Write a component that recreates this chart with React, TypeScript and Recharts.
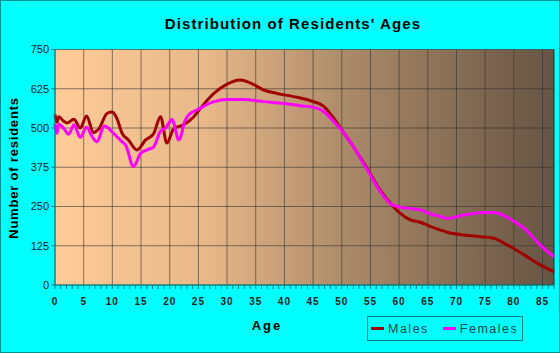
import { LineChart, Line, XAxis, YAxis, CartesianGrid, ReferenceLine } from 'recharts';

// ages are read off the curve, not evenly spaced
const maleAges = [
  0, 0.35, 0.65, 1.5, 2.1, 3.3, 4.4, 5.5, 6.7, 7.6, 9.1, 10, 10.8, 11.7, 12.8, 14.3, 15.8, 17.2, 18.4, 19.5,
  20.7, 22.4, 24.2, 25.6, 27.7, 30, 32.3, 34, 36.4, 38.7, 41.6, 44.5, 46.9, 48.6, 50, 52, 54.4, 56.7, 58.5,
  60.2, 62, 63.7, 65.5, 67.2, 68.4, 71.3, 74.2, 76.5, 78.9, 81.8, 84.6, 87,
];
const maleValues = [
  543, 518, 536, 522, 516, 528, 500, 538, 486, 496, 547, 551, 530, 483, 462, 430, 462, 482, 536, 452,
  498, 510, 536, 568, 610, 640, 653, 644, 621, 610, 600, 587, 568, 531, 494, 441, 372, 302, 260,
  228, 207, 200, 186, 175, 168, 159, 154, 149, 127, 96, 64, 42,
];

const femaleAges = [
  0, 0.35, 0.6, 1.5, 2.4, 3.3, 4.4, 5.5, 6.5, 7.3, 8.6, 10.2, 11.7, 12.3, 13.7, 14.9, 16, 17.2, 18.4, 19.3,
  20.4, 21.6, 22.7, 23.5, 24.8, 27.7, 30, 32.9, 36.4, 39.9, 42.8, 45, 46.9, 48.6, 50, 52, 54.4, 56.7, 58.5,
  59.7, 62.6, 63.7, 65.5, 67.2, 68.4, 71.3, 74.2, 76.5, 78.9, 81.8, 84.6, 87,
];
const femaleValues = [
  512, 483, 512, 499, 480, 510, 470, 502, 472, 456, 506, 483, 456, 446, 377, 419, 430, 440, 490, 500,
  527, 462, 525, 545, 558, 584, 591, 591, 584, 578, 571, 566, 552, 520, 492, 441, 368, 298, 258,
  250, 242, 239, 226, 218, 212, 223, 230, 231, 215, 180, 127, 90,
];

const yTicks = [0, 125, 250, 375, 500, 625, 750];
const xMajorTicks = [0, 5, 10, 15, 20, 25, 30, 35, 40, 45, 50, 55, 60, 65, 70, 75, 80, 85];
const xMinorTicks = Array.from({ length: 88 }, (_, i) => i);
const xMax = 87;

const males = maleAges.map((age, i) => ({ age, value: maleValues[i] }));
const females = femaleAges.map((age, i) => ({ age, value: femaleValues[i] }));

const font = '"Liberation Sans", Arial, sans-serif';
const AXIS = '#008080';

const XTick = ({ x, y, payload }: any) => {
  if (payload.value % 5 !== 0) return null;
  return (
    <text x={x} y={y} dy="0.71em" textAnchor="middle" fontSize={10} fontWeight="bold"
      letterSpacing={1} fill="#102020" fontFamily={font}>
      {payload.value}
    </text>
  );
};

export default function App() {
  return (
    <div style={{
      position: 'absolute', left: 0, top: 0, width: 560, height: 353, boxSizing: 'border-box',
      background: '#00FFFF', border: '1px solid #009090', fontFamily: font,
    }}>
      <div style={{
        position: 'absolute', left: 0, top: 14, width: 584, textAlign: 'center',
        fontSize: 15, fontWeight: 'bold', letterSpacing: 1.1, color: '#000',
      }}>
        Distribution of Residents' Ages
      </div>
      <div style={{ position: 'absolute', left: -1, top: -1 }}>
        <LineChart width={560} height={353} margin={{ top: 49.5, right: 6, bottom: 38, left: 0 }}>
          <defs>
            <linearGradient id="bgGrad" x1="0" y1="0" x2="1" y2="0">
              <stop offset="0%" stopColor="#FFCC99" />
              <stop offset="30%" stopColor="#E8B889" />
              <stop offset="60%" stopColor="#A88868" />
              <stop offset="100%" stopColor="#665443" />
            </linearGradient>
          </defs>
          <CartesianGrid fill="url(#bgGrad)" fillOpacity={1} stroke="#333" strokeOpacity={0.6}
            vertical={false} />
          {xMajorTicks.map((t) => (
            <ReferenceLine key={t} x={t} stroke="#333" strokeOpacity={0.6} />
          ))}
          {/* plot border on the right */}
          <ReferenceLine x={xMax} stroke="#222" strokeOpacity={0.85} />
          <XAxis type="number" dataKey="age" domain={[0, xMax]} ticks={xMinorTicks} interval={0}
            allowDuplicatedCategory={false} height={30} tickSize={4} tickMargin={9}
            stroke={AXIS} tick={<XTick />} />
          <YAxis type="number" domain={[0, 750]} ticks={yTicks} width={55} tickSize={4} tickMargin={2}
            stroke={AXIS} tick={{ fontSize: 11, fill: '#102020', fontFamily: font }} />
          <Line data={males} dataKey="value" type="monotone" stroke="#A00000" strokeWidth={3}
            dot={false} isAnimationActive={false} />
          <Line data={females} dataKey="value" type="monotone" stroke="#FF00FF" strokeWidth={3}
            dot={false} isAnimationActive={false} />
        </LineChart>
      </div>
      <div style={{
        position: 'absolute', left: 12, top: 167, transform: 'translate(-50%, -50%) rotate(-90deg)',
        whiteSpace: 'nowrap', fontSize: 13, fontWeight: 'bold', letterSpacing: 0.8, color: '#000',
      }}>
        Number of residents
      </div>
      <div style={{
        position: 'absolute', left: 266, top: 324, transform: 'translate(-50%, -50%)',
        fontSize: 13, fontWeight: 'bold', letterSpacing: 2, color: '#000',
      }}>
        Age
      </div>
      <div style={{
        position: 'absolute', left: 366, top: 315, width: 154, height: 23, border: '1px solid #008080',
        display: 'flex', alignItems: 'center', fontSize: 12.5, letterSpacing: 1.5, color: '#114444',
      }}>
        <span style={{ width: 13, height: 3, background: '#A00000', marginLeft: 3, marginRight: 4 }} />
        <span>Males</span>
        <span style={{ width: 13, height: 3, background: '#FF00FF', marginLeft: 14, marginRight: 4 }} />
        <span>Females</span>
      </div>
    </div>
  );
}
